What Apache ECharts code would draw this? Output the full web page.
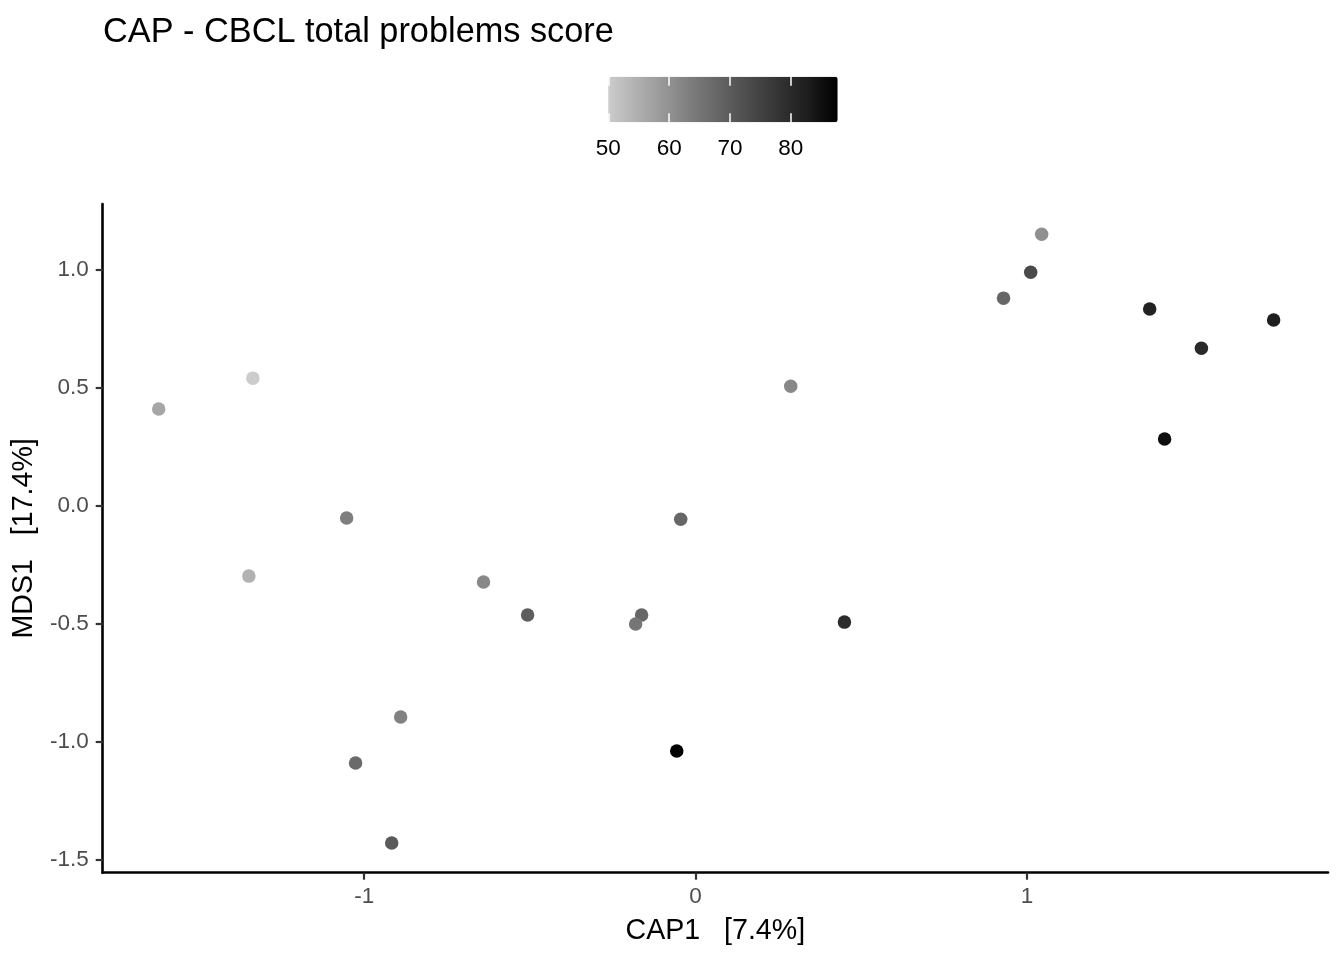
<!DOCTYPE html>
<html>
<head>
<meta charset="utf-8">
<script src="https://cdn.jsdelivr.net/npm/echarts@6/dist/echarts.min.js"></script>
<style>
html,body{margin:0;padding:0;background:#fff;}
#main{width:1344px;height:960px;}
</style>
</head>
<body>
<div id="main"></div>
<script>
// CAP1 axis values
var cap1 = [1.044, 1.011, 0.929, 1.370, 1.744, 1.526, 1.415, 0.287, -0.045, 0.449, -0.057, -0.163, -0.181, -0.507, -0.640, -1.053, -0.890, -1.026, -0.917, -1.336, -1.348, -1.620];
// MDS1 axis values
var mds1 = [1.150, 0.989, 0.879, 0.833, 0.786, 0.667, 0.282, 0.506, -0.058, -0.494, -1.040, -0.464, -0.502, -0.464, -0.324, -0.053, -0.896, -1.091, -1.430, 0.540, -0.299, 0.409];
// CBCL total problems score (colour)
var score = [60.3, 73.3, 67.9, 81.6, 82.5, 80.3, 85.4, 61.7, 68.0, 79.5, 87.7, 68.0, 64.8, 69.4, 61.7, 63.2, 62.8, 67.2, 70.2, 50.0, 54.3, 56.5];
// tick labels
var xTicks = [-1, 0, 1];
var yTicks = [-1.5, -1.0, -0.5, 0.0, 0.5, 1.0];
var legendTicks = [50, 60, 70, 80];
var scoreMin = 50, scoreMax = 87.7;

var FONT = 'Liberation Sans, Arial, sans-serif';
var chart = echarts.init(document.getElementById('main'));

var data = cap1.map(function (x, i) { return [x, mds1[i], score[i]]; });

var option = {
  backgroundColor: '#ffffff',
  animation: false,
  title: {
    text: 'CAP - CBCL total problems score',
    left: 103,
    top: 15.5,
    padding: 0,
    textStyle: { fontFamily: FONT, fontSize: 34.3, fontWeight: 'normal', color: '#000' }
  },
  grid: [
    { left: 102.7, right: 16, top: 204, bottom: 87.3, containLabel: false },
    { left: 608.3, width: 229.4, top: 76.7, height: 45.6, containLabel: false }
  ],
  visualMap: {
    type: 'continuous',
    seriesIndex: 0,
    dimension: 2,
    min: scoreMin,
    max: scoreMax,
    orient: 'horizontal',
    calculable: false,
    hoverLink: false,
    itemWidth: 45.6,
    itemHeight: 229.4,
    left: 608.3,
    top: 76.7,
    padding: 0,
    text: null,
    showLabel: false,
    inRange: {
      color: ['#cccccc', '#b0b0b0', '#959595', '#7a7a7a', '#616161', '#494949', '#323232', '#1c1c1c', '#000000']
    }
  },
  xAxis: [
    {
      type: 'value',
      gridIndex: 0,
      min: -1.789,
      max: 1.908,
      name: 'CAP1   [7.4%]',
      nameLocation: 'middle',
      nameGap: 44,
      nameTextStyle: { fontFamily: FONT, fontSize: 28.6, color: '#000' },
      axisLine: { show: true, onZero: false, lineStyle: { color: '#000', width: 2.6 } },
      axisTick: { show: true, length: 7, customValues: xTicks, lineStyle: { color: '#333', width: 2.2 } },
      axisLabel: { customValues: xTicks, margin: 13, fontFamily: FONT, fontSize: 22.5, color: '#4d4d4d' },
      splitLine: { show: false }
    },
    {
      type: 'value',
      gridIndex: 1,
      min: scoreMin,
      max: scoreMax,
      position: 'bottom',
      z: 10,
      axisLine: { show: false },
      axisTick: { show: true, inside: true, length: 9, customValues: legendTicks, lineStyle: { color: '#fff', width: 1.5 } },
      axisLabel: { customValues: legendTicks, margin: 15, fontFamily: FONT, fontSize: 22.5, color: '#000' },
      splitLine: { show: false }
    },
    {
      type: 'value',
      gridIndex: 1,
      min: scoreMin,
      max: scoreMax,
      position: 'top',
      z: 10,
      axisLine: { show: false },
      axisTick: { show: true, inside: true, length: 9, customValues: legendTicks, lineStyle: { color: '#fff', width: 1.5 } },
      axisLabel: { show: false },
      splitLine: { show: false }
    }
  ],
  yAxis: [
    {
      type: 'value',
      gridIndex: 0,
      min: -1.556,
      max: 1.278,
      name: 'MDS1   [17.4%]',
      nameLocation: 'middle',
      nameGap: 56,
      nameTextStyle: { fontFamily: FONT, fontSize: 28.6, color: '#000' },
      axisLine: { show: true, onZero: false, lineStyle: { color: '#000', width: 2.6 } },
      axisTick: { show: true, length: 7, customValues: yTicks, lineStyle: { color: '#333', width: 2.2 } },
      axisLabel: {
        customValues: yTicks, margin: 14, fontFamily: FONT, fontSize: 22.5, color: '#4d4d4d',
        formatter: function (v) { return v.toFixed(1); }
      },
      splitLine: { show: false }
    },
    {
      type: 'value',
      gridIndex: 1,
      min: 0,
      max: 1,
      show: false
    }
  ],
  series: [
    {
      type: 'scatter',
      xAxisIndex: 0,
      yAxisIndex: 0,
      symbol: 'circle',
      symbolSize: 13.5,
      data: data,
      itemStyle: { opacity: 1 }
    }
  ]
};
chart.setOption(option);
</script>
</body>
</html>
